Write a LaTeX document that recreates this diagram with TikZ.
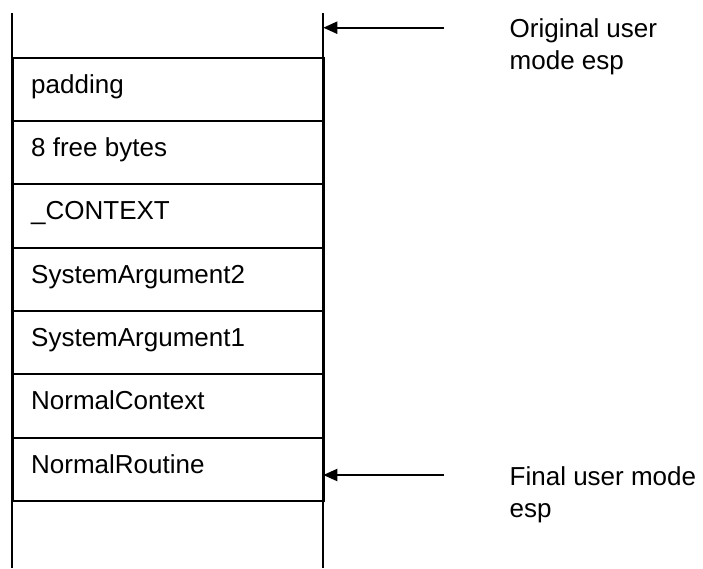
\documentclass[tikz,border=0pt]{standalone}
\usepackage{fontspec}
\setmainfont{Liberation Sans}
\usetikzlibrary{arrows.meta}
\begin{document}
\begin{tikzpicture}[x=1pt,y=-1pt,
  line/.style={line width=1.9pt},
  cell/.style={draw,line width=1.9pt,minimum width=311.6pt,minimum height=63.3pt,inner sep=0pt,anchor=north west},
  lbl/.style={inner sep=0pt,anchor=base west,font=\fontsize{26}{32}\selectfont},
  note/.style={inner sep=0pt,anchor=north west,align=left,font=\fontsize{26}{32}\selectfont},
  ptr/.style={line width=2.1pt,-{Triangle[length=14pt,width=12pt]}}]
\useasboundingbox (0,0) rectangle (703,568);
% stack cells
\foreach \n/\t [count=\k from 0] in {c1/padding,c2/8 free bytes,c3/\_CONTEXT,c4/SystemArgument2,c5/SystemArgument1,c6/NormalContext,c7/NormalRoutine}{
  \node[cell] (\n) at (11.7,56.8+63.3*\k) {};
  \node[lbl] (\n t) at (31,56.8+63.3*\k+36.5) {\t};
}
% side walls
\coordinate (lt) at (11.7,13.3);
\coordinate (lb) at (11.7,568);
\coordinate (rt) at (323.3,13.3);
\coordinate (rb) at (323.3,568);
\draw[line] (lt) -- (lb);
\draw[line] (rt) -- (rb);
% pointers
\coordinate (otip) at (323.3,27.7);
\coordinate (ostart) at (444,27.7);
\coordinate (ftip) at (323.3,475);
\coordinate (fstart) at (444,475);
\draw[ptr] (ostart) -- (otip);
\draw[ptr] (fstart) -- (ftip);
\node[note] (orig) at (509.5,18.2) {Original user\\mode esp};
\node[note] (final) at (509.5,466.4) {Final user mode\\esp};
\end{tikzpicture}
\end{document}
